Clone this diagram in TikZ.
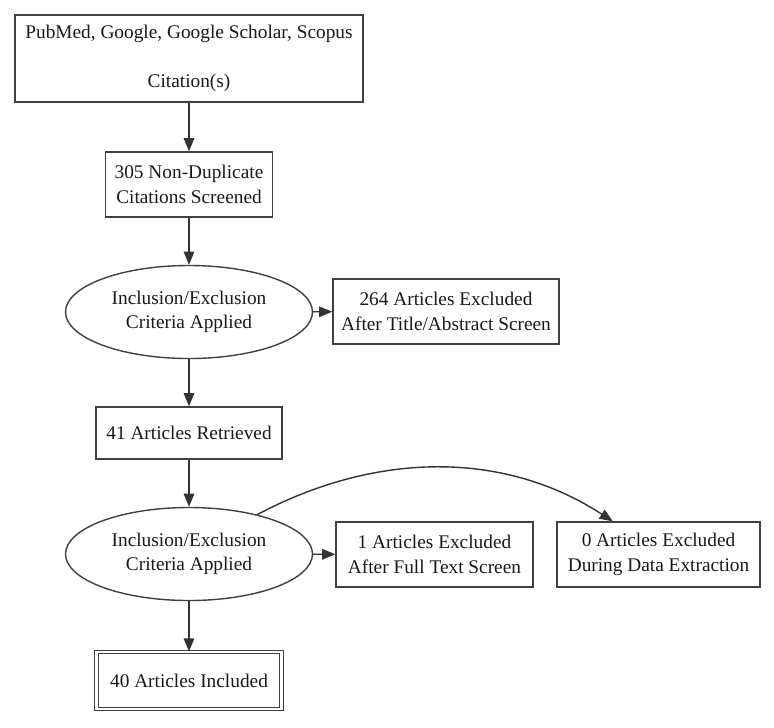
\documentclass[tikz,border=0pt]{standalone}
\usepackage{fontspec}
\setmainfont{Liberation Serif}
\usepackage{tikz}
\usetikzlibrary{positioning,arrows.meta,shapes.geometric}

\begin{document}
\begin{tikzpicture}[font=\fontsize{11}{14}\selectfont,
  box/.style={draw=black!75,line width=0.8pt,text=black!90,align=center,inner sep=2pt},
  oval/.style={ellipse,draw=black!75,line width=0.8pt,text=black!90,align=center,inner sep=0pt,minimum width=4.94cm,minimum height=1.86cm},
  link/.style={draw=black!80,line width=0.8pt,-{Triangle[length=7.5pt,width=6pt]}}]
\useasboundingbox (0,0) rectangle (15.48,-14.54);
\node[box,minimum width=6.96cm,minimum height=1.74cm] (src) at (3.78,-1.17) {PubMed, Google, Google Scholar, Scopus\\[14pt]Citation(s)};
\node[box,minimum width=3.34cm,minimum height=1.30cm] (dup) at (3.78,-3.69) {305 Non-Duplicate\\Citations Screened};
\node[oval] (crit1) at (3.78,-6.24) {Inclusion/Exclusion\\Criteria Applied};
\node[box,minimum width=4.52cm,minimum height=1.30cm] (exc1) at (8.92,-6.23) {264 Articles Excluded\\After Title/Abstract Screen};
\node[box,minimum width=3.72cm,minimum height=1.04cm] (ret) at (3.78,-8.66) {41 Articles Retrieved};
\node[oval] (crit2) at (3.78,-11.08) {Inclusion/Exclusion\\Criteria Applied};
\node[box,minimum width=3.94cm,minimum height=1.30cm] (exc2) at (8.69,-11.09) {1 Articles Excluded\\After Full Text Screen};
\node[box,minimum width=4.06cm,minimum height=1.30cm] (exc3) at (13.17,-11.09) {0 Articles Excluded\\During Data Extraction};
\node[box,double,double distance=1.6pt,line width=0.6pt,minimum width=3.7cm,minimum height=1.14cm] (inc) at (3.78,-13.61) {40 Articles Included};
\draw[link] (src) -- (dup);
\draw[link] (dup) -- (crit1);
\draw[link] (crit1) -- (exc1);
\draw[link] (crit1) -- (ret);
\draw[link] (ret) -- (crit2);
\draw[link] (crit2) -- (exc2);
\draw[link] (crit2.30) to[out=28,in=147,looseness=0.95] (exc3.144.5);
\draw[link] (crit2) -- (inc);
\end{tikzpicture}
\end{document}
